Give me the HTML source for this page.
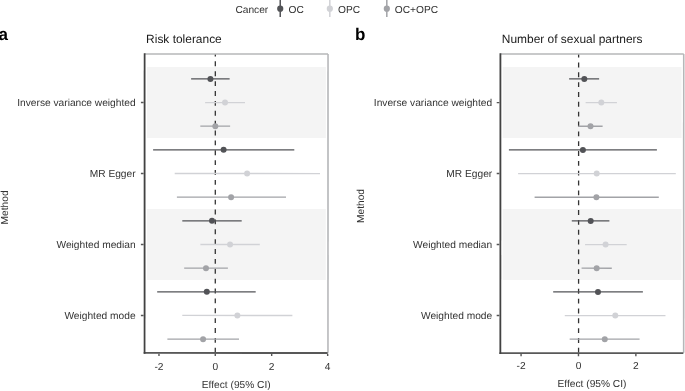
<!DOCTYPE html>
<html><head><meta charset="utf-8"><style>
html,body{margin:0;padding:0;background:#fff;}
text{text-rendering:geometricPrecision;}
svg{display:block;will-change:transform;}
.t{font-family:"Liberation Sans",sans-serif;font-size:10.2px;fill:#333333;}
.ti{font-family:"Liberation Sans",sans-serif;font-size:11.95px;fill:#1a1a1a;}
.lt{font-family:"Liberation Sans",sans-serif;font-size:17px;font-weight:bold;fill:#000;}
</style></head><body>
<svg width="685" height="391" viewBox="0 0 685 391">
<rect width="685" height="391" fill="#fff"/>
<g transform="rotate(0.01 342.5 195.5)">
<text x="235.4" y="12.6" class="t">Cancer</text>
<line x1="280.2" y1="0" x2="280.2" y2="17.1" stroke="#525357" stroke-width="1.5"/>
<circle cx="280.2" cy="8.7" r="3.1" fill="#525357"/>
<text x="288.5" y="12.6" class="t">OC</text>
<line x1="329.8" y1="0" x2="329.8" y2="17.1" stroke="#d1d2d6" stroke-width="1.5"/>
<circle cx="329.8" cy="8.7" r="3.1" fill="#d1d2d6"/>
<text x="338.0" y="12.6" class="t">OPC</text>
<line x1="386.8" y1="0" x2="386.8" y2="17.1" stroke="#a2a3a7" stroke-width="1.5"/>
<circle cx="386.8" cy="8.7" r="3.1" fill="#a2a3a7"/>
<text x="394.8" y="12.6" class="t">OC+OPC</text>
<rect x="146.90" y="67.06" width="178.95" height="71" fill="#f4f4f4"/>
<rect x="146.90" y="209.02" width="178.95" height="71" fill="#f4f4f4"/>
<line x1="215.3" y1="352.7" x2="215.3" y2="54.0" stroke="#333333" stroke-width="1.3" stroke-dasharray="4.9 4.976"/>
<g>
<line x1="191.1" y1="78.90" x2="229.6" y2="78.90" stroke="#525357" stroke-width="1.3"/>
<circle cx="210.4" cy="78.90" r="3.0" fill="#525357"/>
<line x1="205.1" y1="102.56" x2="245.0" y2="102.56" stroke="#d1d2d6" stroke-width="1.3"/>
<circle cx="225.0" cy="102.56" r="3.0" fill="#d1d2d6"/>
<line x1="200.3" y1="126.22" x2="230.1" y2="126.22" stroke="#a2a3a7" stroke-width="1.3"/>
<circle cx="215.3" cy="126.22" r="3.0" fill="#a2a3a7"/>
<line x1="153.1" y1="149.88" x2="294.3" y2="149.88" stroke="#525357" stroke-width="1.3"/>
<circle cx="223.6" cy="149.88" r="3.0" fill="#525357"/>
<line x1="174.7" y1="173.54" x2="320.0" y2="173.54" stroke="#d1d2d6" stroke-width="1.3"/>
<circle cx="247.1" cy="173.54" r="3.0" fill="#d1d2d6"/>
<line x1="176.9" y1="197.20" x2="286.0" y2="197.20" stroke="#a2a3a7" stroke-width="1.3"/>
<circle cx="231.1" cy="197.20" r="3.0" fill="#a2a3a7"/>
<line x1="182.3" y1="220.86" x2="241.7" y2="220.86" stroke="#525357" stroke-width="1.3"/>
<circle cx="212.0" cy="220.86" r="3.0" fill="#525357"/>
<line x1="200.4" y1="244.52" x2="259.8" y2="244.52" stroke="#d1d2d6" stroke-width="1.3"/>
<circle cx="230.1" cy="244.52" r="3.0" fill="#d1d2d6"/>
<line x1="184.2" y1="268.18" x2="227.9" y2="268.18" stroke="#a2a3a7" stroke-width="1.3"/>
<circle cx="206.0" cy="268.18" r="3.0" fill="#a2a3a7"/>
<line x1="157.2" y1="291.84" x2="255.7" y2="291.84" stroke="#525357" stroke-width="1.3"/>
<circle cx="206.8" cy="291.84" r="3.0" fill="#525357"/>
<line x1="182.3" y1="315.50" x2="292.4" y2="315.50" stroke="#d1d2d6" stroke-width="1.3"/>
<circle cx="237.4" cy="315.50" r="3.0" fill="#d1d2d6"/>
<line x1="167.4" y1="339.16" x2="239.0" y2="339.16" stroke="#a2a3a7" stroke-width="1.3"/>
<circle cx="203.1" cy="339.16" r="3.0" fill="#a2a3a7"/>
</g>
<line x1="144.6" y1="54.0" x2="328.0" y2="54.0" stroke="#b6b7b9" stroke-width="1.6"/>
<line x1="328.0" y1="54.0" x2="328.0" y2="352.7" stroke="#b6b7b9" stroke-width="1.6"/>
<line x1="143.7" y1="353.0" x2="327.7" y2="353.0" stroke="#585858" stroke-width="1.8"/>
<line x1="144.6" y1="53.2" x2="144.6" y2="353.9" stroke="#424242" stroke-width="1.8"/>
<line x1="140.9" y1="102.56" x2="143.6" y2="102.56" stroke="#555555" stroke-width="1.4"/>
<text x="135.6" y="106.06" text-anchor="end" class="t">Inverse variance weighted</text>
<line x1="140.9" y1="173.54" x2="143.6" y2="173.54" stroke="#555555" stroke-width="1.4"/>
<text x="135.6" y="177.04" text-anchor="end" class="t">MR Egger</text>
<line x1="140.9" y1="244.52" x2="143.6" y2="244.52" stroke="#555555" stroke-width="1.4"/>
<text x="135.6" y="248.02" text-anchor="end" class="t">Weighted median</text>
<line x1="140.9" y1="315.50" x2="143.6" y2="315.50" stroke="#555555" stroke-width="1.4"/>
<text x="135.6" y="319.00" text-anchor="end" class="t">Weighted mode</text>
<line x1="159.0" y1="353.7" x2="159.0" y2="356.09999999999997" stroke="#555555" stroke-width="1.4"/>
<text x="159.0" y="369.8" text-anchor="middle" class="t">-2</text>
<line x1="215.3" y1="353.7" x2="215.3" y2="356.09999999999997" stroke="#555555" stroke-width="1.4"/>
<text x="215.3" y="369.8" text-anchor="middle" class="t">0</text>
<line x1="271.7" y1="353.7" x2="271.7" y2="356.09999999999997" stroke="#555555" stroke-width="1.4"/>
<text x="271.7" y="369.8" text-anchor="middle" class="t">2</text>
<line x1="327.7" y1="353.7" x2="327.7" y2="356.09999999999997" stroke="#555555" stroke-width="1.4"/>
<text x="327.7" y="369.8" text-anchor="middle" class="t">4</text>
<text x="236.30" y="388.4" text-anchor="middle" class="t">Effect (95% CI)</text>
<text x="146.1" y="43.4" class="ti">Risk tolerance</text>
<text x="-1.6" y="39.7" class="lt">a</text>
<text transform="translate(8.2 207.5) rotate(-90)" text-anchor="middle" class="t">Method</text>
<rect x="502.70" y="67.06" width="178.85" height="71" fill="#f4f4f4"/>
<rect x="502.70" y="209.02" width="178.85" height="71" fill="#f4f4f4"/>
<line x1="578.6" y1="352.7" x2="578.6" y2="54.0" stroke="#333333" stroke-width="1.3" stroke-dasharray="4.88 4.96"/>
<g>
<line x1="569.1" y1="78.90" x2="599.1" y2="78.90" stroke="#525357" stroke-width="1.3"/>
<circle cx="584.3" cy="78.90" r="3.0" fill="#525357"/>
<line x1="585.6" y1="102.56" x2="616.9" y2="102.56" stroke="#d1d2d6" stroke-width="1.3"/>
<circle cx="601.3" cy="102.56" r="3.0" fill="#d1d2d6"/>
<line x1="578.3" y1="126.22" x2="602.6" y2="126.22" stroke="#a2a3a7" stroke-width="1.3"/>
<circle cx="590.5" cy="126.22" r="3.0" fill="#a2a3a7"/>
<line x1="508.9" y1="149.88" x2="656.9" y2="149.88" stroke="#525357" stroke-width="1.3"/>
<circle cx="582.9" cy="149.88" r="3.0" fill="#525357"/>
<line x1="518.1" y1="173.54" x2="675.8" y2="173.54" stroke="#d1d2d6" stroke-width="1.3"/>
<circle cx="596.7" cy="173.54" r="3.0" fill="#d1d2d6"/>
<line x1="534.6" y1="197.20" x2="658.8" y2="197.20" stroke="#a2a3a7" stroke-width="1.3"/>
<circle cx="596.4" cy="197.20" r="3.0" fill="#a2a3a7"/>
<line x1="571.8" y1="220.86" x2="609.4" y2="220.86" stroke="#525357" stroke-width="1.3"/>
<circle cx="590.7" cy="220.86" r="3.0" fill="#525357"/>
<line x1="585.1" y1="244.52" x2="626.7" y2="244.52" stroke="#d1d2d6" stroke-width="1.3"/>
<circle cx="605.6" cy="244.52" r="3.0" fill="#d1d2d6"/>
<line x1="581.6" y1="268.18" x2="611.8" y2="268.18" stroke="#a2a3a7" stroke-width="1.3"/>
<circle cx="596.7" cy="268.18" r="3.0" fill="#a2a3a7"/>
<line x1="553.2" y1="291.84" x2="642.9" y2="291.84" stroke="#525357" stroke-width="1.3"/>
<circle cx="598.0" cy="291.84" r="3.0" fill="#525357"/>
<line x1="564.8" y1="315.50" x2="665.5" y2="315.50" stroke="#d1d2d6" stroke-width="1.3"/>
<circle cx="615.3" cy="315.50" r="3.0" fill="#d1d2d6"/>
<line x1="569.7" y1="339.16" x2="639.6" y2="339.16" stroke="#a2a3a7" stroke-width="1.3"/>
<circle cx="604.8" cy="339.16" r="3.0" fill="#a2a3a7"/>
</g>
<line x1="500.4" y1="54.0" x2="683.7" y2="54.0" stroke="#b6b7b9" stroke-width="1.6"/>
<line x1="683.7" y1="54.0" x2="683.7" y2="352.7" stroke="#b6b7b9" stroke-width="1.6"/>
<line x1="499.5" y1="353.0" x2="683.4000000000001" y2="353.0" stroke="#585858" stroke-width="1.8"/>
<line x1="500.4" y1="53.2" x2="500.4" y2="353.9" stroke="#424242" stroke-width="1.8"/>
<line x1="496.7" y1="102.56" x2="499.4" y2="102.56" stroke="#555555" stroke-width="1.4"/>
<text x="492.2" y="106.06" text-anchor="end" class="t">Inverse variance weighted</text>
<line x1="496.7" y1="173.54" x2="499.4" y2="173.54" stroke="#555555" stroke-width="1.4"/>
<text x="492.2" y="177.04" text-anchor="end" class="t">MR Egger</text>
<line x1="496.7" y1="244.52" x2="499.4" y2="244.52" stroke="#555555" stroke-width="1.4"/>
<text x="492.2" y="248.02" text-anchor="end" class="t">Weighted median</text>
<line x1="496.7" y1="315.50" x2="499.4" y2="315.50" stroke="#555555" stroke-width="1.4"/>
<text x="492.2" y="319.00" text-anchor="end" class="t">Weighted mode</text>
<line x1="521.1" y1="353.7" x2="521.1" y2="356.09999999999997" stroke="#555555" stroke-width="1.4"/>
<text x="521.1" y="369.2" text-anchor="middle" class="t">-2</text>
<line x1="578.5" y1="353.7" x2="578.5" y2="356.09999999999997" stroke="#555555" stroke-width="1.4"/>
<text x="578.5" y="369.2" text-anchor="middle" class="t">0</text>
<line x1="635.9" y1="353.7" x2="635.9" y2="356.09999999999997" stroke="#555555" stroke-width="1.4"/>
<text x="635.9" y="369.2" text-anchor="middle" class="t">2</text>
<text x="592.05" y="387.3" text-anchor="middle" class="t">Effect (95% CI)</text>
<text x="501.8" y="43.4" class="ti">Number of sexual partners</text>
<text x="355.0" y="39.6" class="lt">b</text>
<text transform="translate(363.6 206.0) rotate(-90)" text-anchor="middle" class="t">Method</text>
</g>
</svg>
</body></html>
